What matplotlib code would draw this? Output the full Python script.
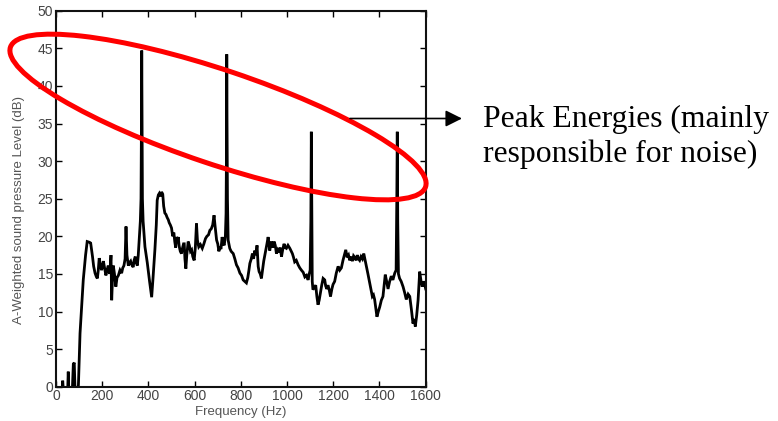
import matplotlib
matplotlib.use("Agg")
import matplotlib.pyplot as plt
from matplotlib.patches import Ellipse

# Spectrum data (Frequency in Hz, A-weighted SPL in dB)
freq = [0, 20, 25, 29, 33, 45, 50, 53, 56, 62, 70, 75, 79, 83, 90, 97,
        104, 118, 128, 135, 145, 150, 158, 163, 169, 175, 179, 183, 187, 192, 197, 201,
        205, 210, 216, 221, 226, 232, 236, 238, 241, 244, 248, 253, 259, 264, 270, 277,
        284, 289, 294, 299, 303, 307, 313, 318, 323, 328, 334, 338, 343, 347, 352, 356,
        360, 365, 368, 370, 371, 372, 374, 377, 385, 395, 405, 414, 420, 428, 434, 438,
        443, 447, 452, 457, 462, 466, 471, 476, 481, 486, 490, 495, 500, 505, 510, 514,
        518, 522, 526, 529, 533, 538, 543, 548, 552, 555, 558, 562, 566, 572, 577, 582,
        587, 592, 598, 603, 608, 612, 618, 625, 633, 640, 647, 653, 660, 666, 672, 678,
        684, 688, 695, 700, 705, 709, 714, 719, 724, 728, 733, 736, 738, 739, 740, 742,
        745, 752, 758, 767, 774, 781, 788, 796, 803, 810, 817, 824, 830, 835, 839, 845,
        850, 855, 860, 865, 870, 875, 879, 884, 889, 894, 899, 904, 908, 913, 918, 922,
        925, 929, 933, 938, 944, 949, 954, 960, 965, 970, 976, 981, 987, 992, 997, 1004,
        1012, 1018, 1023, 1028, 1033, 1040, 1048, 1055, 1062, 1070, 1077, 1084, 1091, 1096, 1100, 1103,
        1105, 1107, 1109, 1112, 1118, 1124, 1129, 1134, 1139, 1144, 1150, 1156, 1163, 1167, 1172, 1177,
        1183, 1188, 1194, 1199, 1206, 1213, 1221, 1228, 1235, 1242, 1248, 1254, 1260, 1266, 1271, 1277,
        1283, 1288, 1293, 1299, 1304, 1309, 1314, 1320, 1326, 1332, 1338, 1343, 1350, 1358, 1364, 1369,
        1374, 1379, 1384, 1389, 1395, 1401, 1408, 1415, 1420, 1425, 1431, 1437, 1444, 1451, 1458, 1466,
        1472, 1475, 1477, 1479, 1482, 1487, 1494, 1502, 1509, 1516, 1524, 1531, 1538, 1545, 1550, 1555,
        1561, 1567, 1574, 1580, 1585, 1590, 1595, 1600]

spl = [-2, -2, -1, 0.8, -1, -2, -1, 2.0, -1, -2, -1, 3.0, 3.2, -1, -1, 0.2,
       7.1, 14.2, 17.5, 19.3, 19.2, 19.1, 17.3, 16.0, 15.1, 14.6, 14.4, 15.5, 17.1, 16.2, 15.5, 16.0,
       16.7, 15.8, 14.8, 15.5, 16.1, 15.0, 16.5, 17.5, 11.5, 14.0, 16.1, 15.0, 13.3, 14.5, 14.8, 15.5,
       15.1, 15.8, 16.1, 17.0, 21.3, 17.5, 16.1, 16.5, 16.7, 16.2, 15.9, 16.8, 17.3, 16.5, 16.1, 17.5,
       19.5, 22.0, 25.0, 36.0, 44.7, 38.0, 25.0, 22.0, 18.6, 16.5, 14.0, 11.9, 14.5, 18.2, 21.5, 24.8,
       25.5, 25.7, 25.3, 25.9, 25.6, 24.0, 23.1, 22.9, 22.5, 22.2, 21.8, 21.5, 21.1, 20.0, 20.5, 19.3,
       18.5, 19.9, 19.5, 19.9, 18.7, 18.0, 17.7, 18.5, 19.0, 19.0, 17.0, 15.7, 17.5, 19.3, 18.8, 18.0,
       18.2, 17.3, 16.8, 18.5, 21.7, 19.5, 18.6, 18.9, 18.4, 19.0, 19.7, 20.0, 20.2, 20.8, 21.0, 21.5,
       22.8, 21.5, 19.5, 19.0, 18.0, 18.6, 18.3, 19.9, 19.0, 18.8, 20.0, 23.0, 32.0, 44.2, 36.0, 25.0,
       19.5, 18.4, 18.0, 17.7, 17.0, 16.2, 15.8, 15.1, 14.8, 14.2, 14.0, 13.8, 14.5, 15.5, 16.4, 17.0,
       17.7, 17.0, 18.1, 17.5, 18.8, 16.0, 15.3, 15.0, 14.4, 15.5, 16.7, 17.5, 18.1, 19.0, 19.9, 19.0,
       18.1, 18.8, 19.3, 18.5, 19.3, 18.8, 17.7, 18.2, 17.9, 18.5, 17.3, 18.2, 19.0, 18.5, 18.4, 18.8,
       18.4, 18.0, 17.7, 17.2, 16.6, 16.8, 16.2, 15.8, 15.5, 15.2, 14.6, 14.8, 14.2, 15.0, 15.5, 22.0,
       33.9, 25.0, 14.0, 12.9, 13.2, 13.5, 12.0, 10.9, 11.5, 12.4, 13.5, 14.4, 14.2, 13.4, 13.0, 13.5,
       12.8, 12.0, 13.0, 13.6, 14.0, 15.1, 16.0, 15.5, 15.8, 16.8, 17.5, 18.2, 17.2, 17.5, 16.8, 17.3,
       16.7, 17.4, 17.2, 16.8, 17.5, 17.0, 16.8, 17.3, 17.0, 17.7, 16.8, 16.0, 15.0, 13.7, 12.8, 12.0,
       12.2, 11.6, 10.5, 9.3, 10.0, 10.6, 11.5, 12.0, 13.5, 14.9, 14.0, 13.0, 14.0, 14.7, 14.2, 15.1,
       15.5, 25.0, 33.9, 22.0, 15.0, 14.4, 14.0, 13.3, 12.5, 11.6, 12.3, 12.0, 10.3, 8.4, 9.0, 8.0,
       9.5, 11.5, 15.3, 14.0, 13.3, 14.0, 13.7, 13.0]

xticks = list(range(0, 1601, 200))
yticks = list(range(0, 51, 5))
xlabel = "Frequency (Hz)"
ylabel = "A-Weighted sound pressure Level (dB)"
note_lines = ["Peak Energies (mainly", "responsible for noise)"]

W, H = 778, 421
fig = plt.figure(figsize=(W / 100, H / 100), dpi=100)
fig.patch.set_facecolor("white")

L, R, T, B = 56, 425.7, 10.7, 386.7
ax = fig.add_axes([L / W, 1 - B / H, (R - L) / W, (B - T) / H])
ax.plot(freq, spl, color="black", lw=2.0, solid_joinstyle="miter")
ax.set_xlim(0, 1600)
ax.set_ylim(0, 50)
ax.set_xticks(xticks)
ax.set_yticks(yticks)
ax.tick_params(direction="in", top=True, right=True, length=4, width=1,
               labelsize=10, labelcolor="#444444", pad=2)
for lab in ax.get_xticklabels() + ax.get_yticklabels():
    lab.set_family("Liberation Sans")
for s in ax.spines.values():
    s.set_linewidth(1.5)
    s.set_color("#111111")
ax.set_xlabel(xlabel, family="Liberation Sans", fontsize=9.5, color="#555555", labelpad=2)
ax.set_ylabel(ylabel, family="Liberation Sans", fontsize=9.5, color="#555555")
ax.yaxis.set_label_coords(-0.084, 0.47)

# Overlay in pixel coordinates for annotations
ov = fig.add_axes([0, 0, 1, 1], zorder=10)
ov.set_xlim(0, W)
ov.set_ylim(H, 0)
ov.axis("off")
ov.patch.set_alpha(0)

ell = Ellipse((218, 117), width=438, height=94, angle=18.6,
              fill=False, edgecolor="#ff0000", lw=3.6)
ov.add_patch(ell)

ov.annotate("", xy=(462, 118.5), xytext=(350, 118.5),
            arrowprops=dict(arrowstyle="-|>", color="black", lw=1.2,
                            mutation_scale=25, shrinkA=0, shrinkB=0))

ov.text(482.7, 126.7, note_lines[0], family="Liberation Serif", fontsize=22.8,
        va="baseline", ha="left", color="black")
ov.text(482.7, 161.7, note_lines[1], family="Liberation Serif", fontsize=22.8,
        va="baseline", ha="left", color="black")

fig.savefig("out.png", dpi=100)
